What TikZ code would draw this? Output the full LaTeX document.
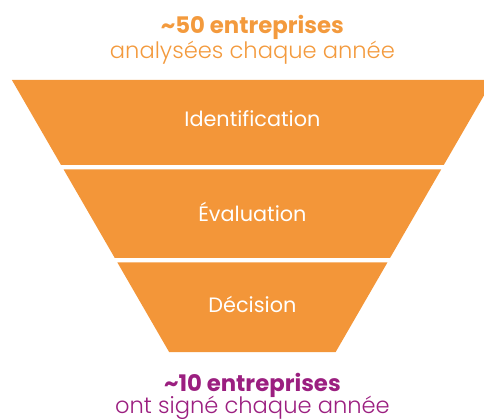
\documentclass[tikz,border=0pt]{standalone}
\usepackage{fontspec}
\setmainfont{Poppins}
\IfFontExistsTF{Poppins Light}{\newfontfamily\lightfont{Poppins Light}}{\newfontfamily\lightfont{Poppins}}
\definecolor{funnelorange}{HTML}{F39639}
\definecolor{textorange}{HTML}{F39A3D}
\definecolor{plum}{HTML}{9B1F80}
\tikzset{
  band/.style={fill=funnelorange, draw=none},
  stage/.style={anchor=base, text=white, inner sep=0pt, font=\fontsize{20.8}{22}\selectfont},
  headline/.style={anchor=base, font=\bfseries\fontsize{22.8}{24}\selectfont, inner sep=0pt},
  subline/.style={anchor=base, font=\lightfont\fontsize{22.6}{24}\selectfont, inner sep=0pt}
}
\begin{document}
\begin{tikzpicture}[x=1pt,y=-1pt]
\useasboundingbox (0,0) rectangle (484,419);
\clip (0,0) rectangle (484,419);
% funnel: center 252.4, half width 240.5 - 0.578*(y-80)
\def\cx{252.4}
\newcommand{\hw}[1]{240.5-0.578*(#1-80)}
\fill[band] ({\cx-(\hw{80})},80) -- ({\cx+(\hw{80})},80) -- ({\cx+(\hw{165})},165) -- ({\cx-(\hw{165})},165) -- cycle;
\fill[band] ({\cx-(\hw{169.5})},169.5) -- ({\cx+(\hw{169.5})},169.5) -- ({\cx+(\hw{258})},258) -- ({\cx-(\hw{258})},258) -- cycle;
\fill[band] ({\cx-(\hw{262.5})},262.5) -- ({\cx+(\hw{262.5})},262.5) -- ({\cx+(\hw{352})},352) -- ({\cx-(\hw{352})},352) -- cycle;
\node[stage] (ident) at (252.4,127) {Identification};
\node[stage] (eval) at (252.4,221.5) {Évaluation};
\node[stage] (decis) at (252.4,312.5) {Décision};
\node[headline, text=textorange] (top1) at (252.4,34) {\textasciitilde 50 entreprises};
\node[subline, text=textorange] (top2) at (252.4,58.3) {analysées chaque année};
\node[headline, text=plum] (bot1) at (252.4,391) {\textasciitilde 10 entreprises};
\node[subline, text=plum] (bot2) at (252.4,413.3) {ont signé chaque année};
\end{tikzpicture}
\end{document}
